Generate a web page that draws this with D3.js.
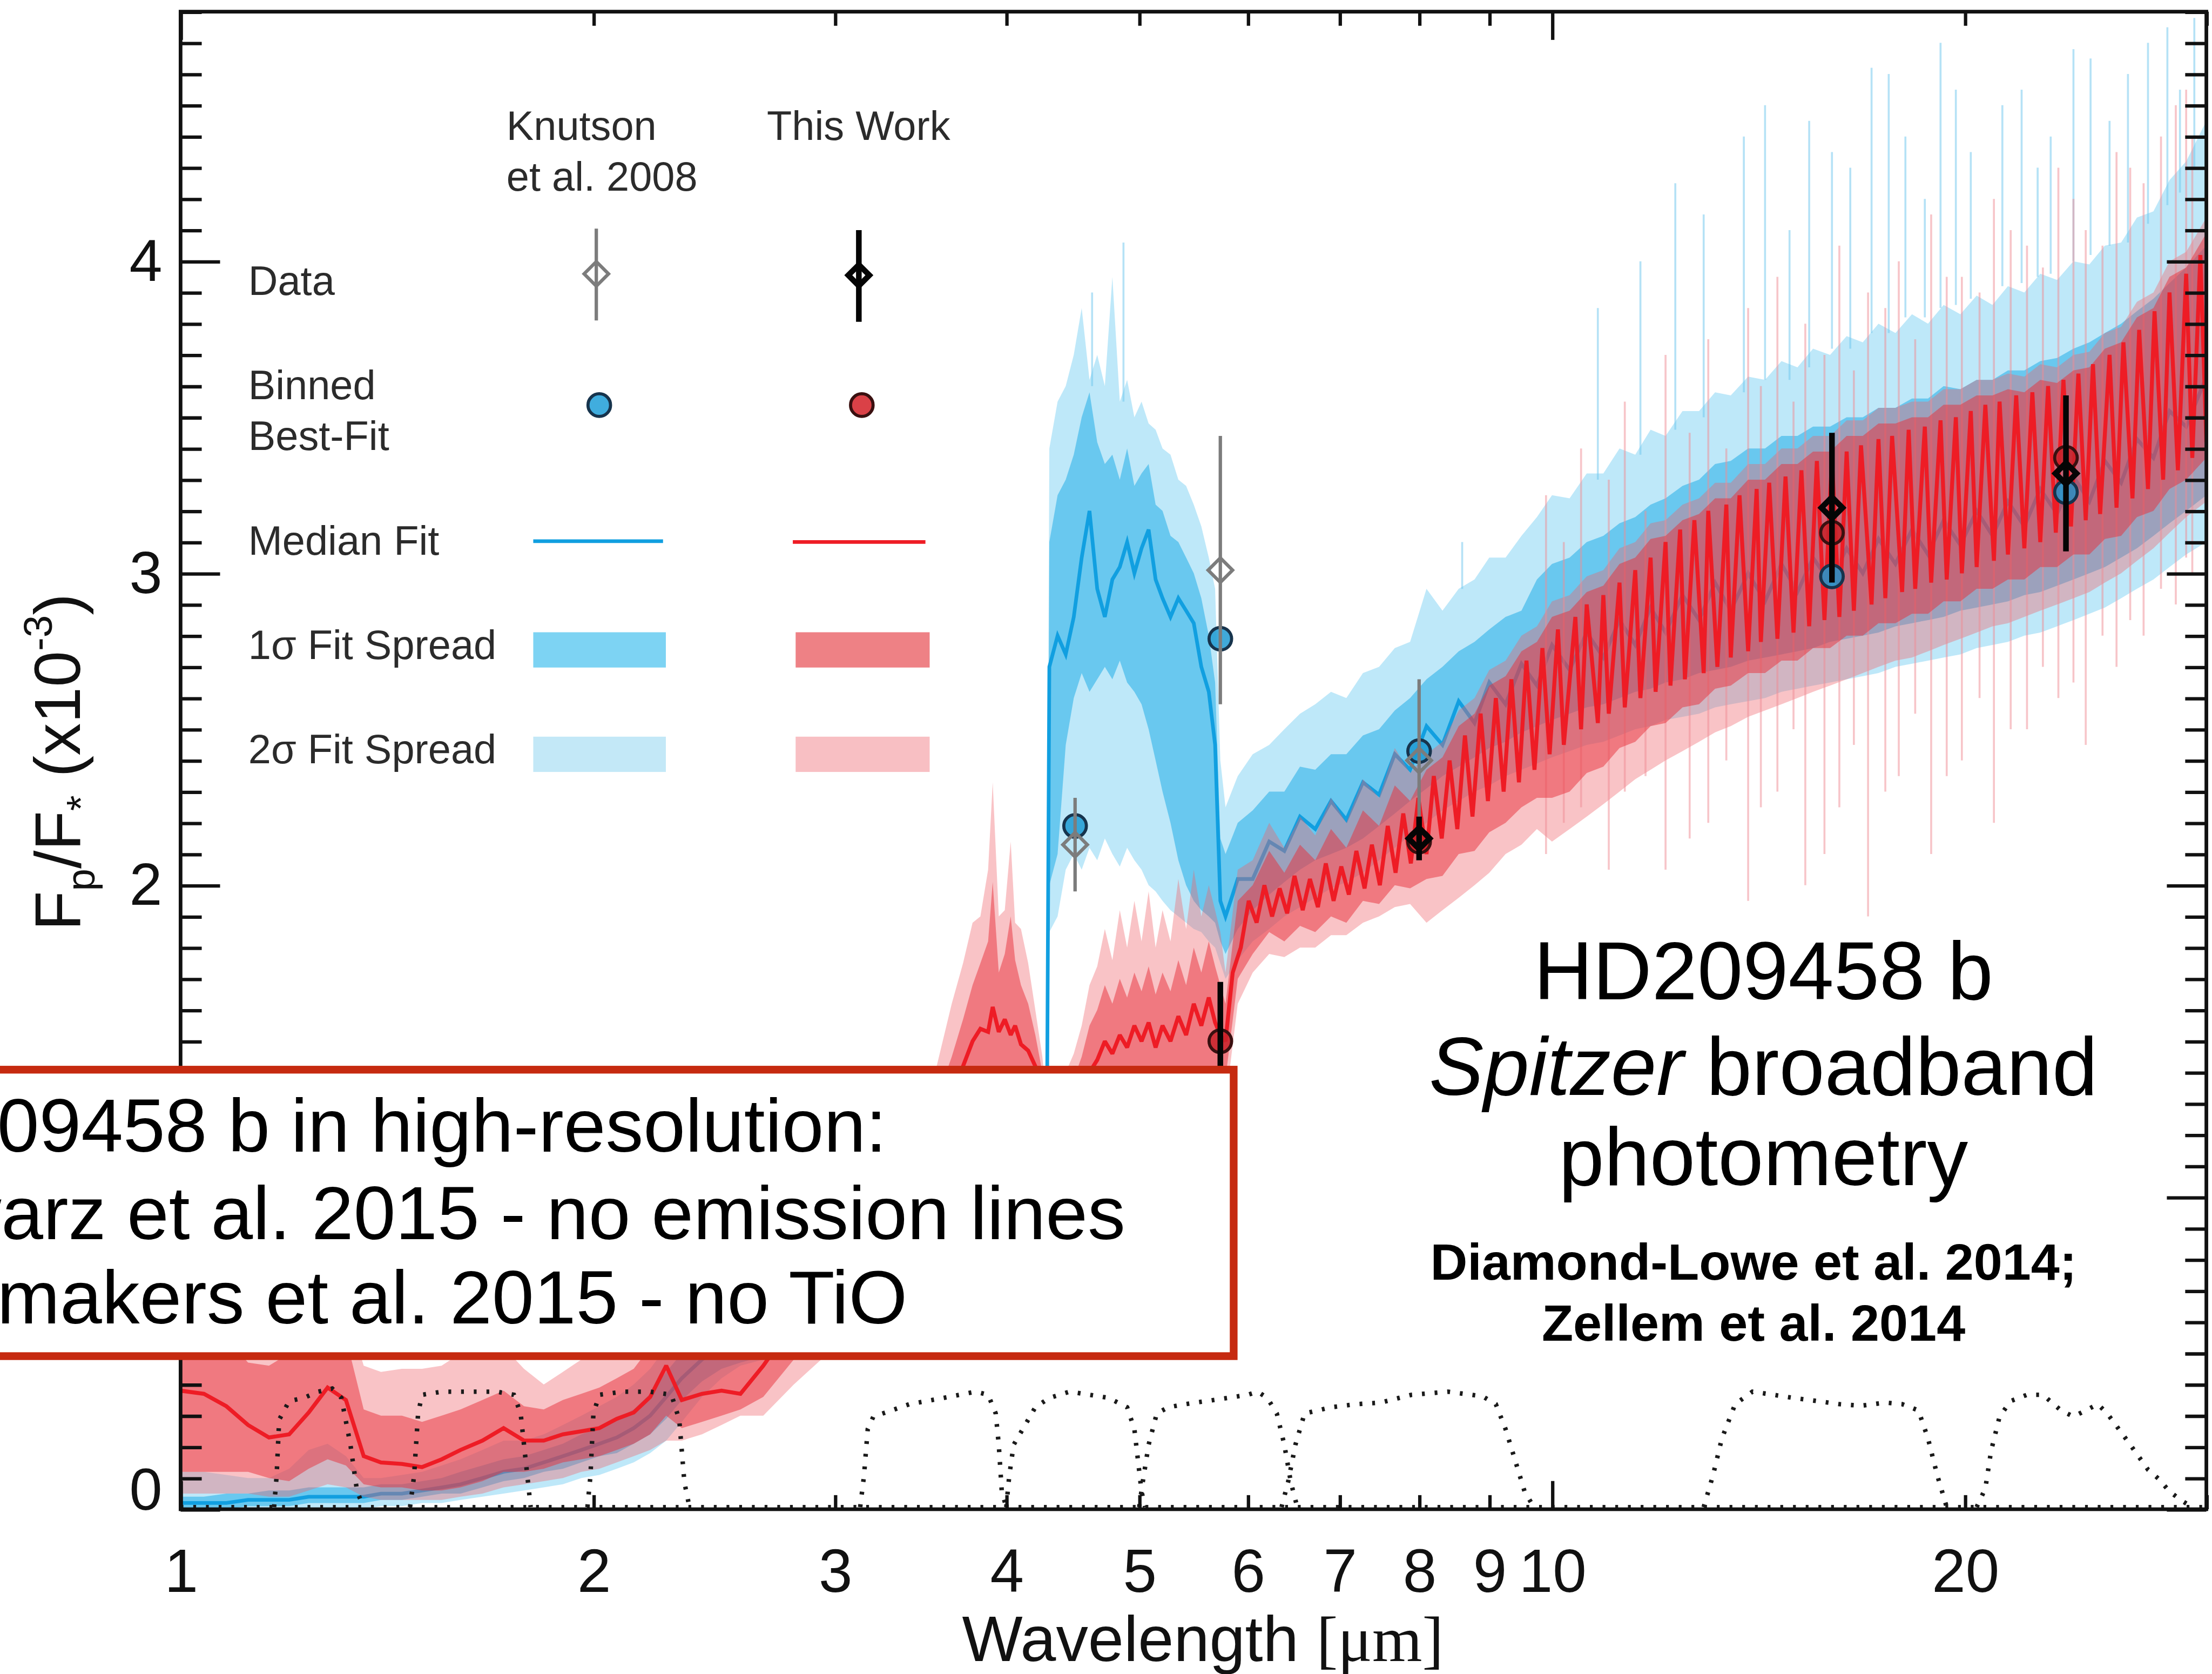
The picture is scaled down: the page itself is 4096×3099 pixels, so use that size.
<!DOCTYPE html>
<html>
<head>
<meta charset="utf-8">
<title>HD209458 b emission spectrum</title>
<style>
  html, body { margin: 0; padding: 0; background: #fff; overflow: hidden; }
  svg { display: block; }
</style>
</head>
<body>
<script src="https://cdn.jsdelivr.net/npm/d3@7"></script>
<script>
// model wavelength grid [micron]
var wave = [
  1.00, 1.04, 1.08, 1.12, 1.16, 1.20, 1.24, 1.28, 1.32, 1.36, 1.40, 1.45, 1.50, 1.55, 1.60, 1.66, 1.72, 1.78, 1.84, 1.90, 1.96, 2.02, 2.08, 2.14, 2.20, 2.26, 2.32, 2.40, 2.48, 2.56,
  2.66, 2.80, 3.00, 3.20, 3.40, 3.55, 3.65, 3.72, 3.78, 3.83, 3.88, 3.91, 3.95, 3.99, 4.03, 4.06, 4.10, 4.15, 4.20, 4.25, 4.28,
  4.30, 4.36, 4.42, 4.48, 4.54, 4.60, 4.66, 4.72, 4.78, 4.84, 4.90, 4.96, 5.02, 5.08, 5.14, 5.20, 5.27, 5.34, 5.41, 5.48, 5.55, 5.62, 5.68, 5.73,
  5.78, 5.90, 6.05, 6.22, 6.38, 6.55, 6.72, 6.90, 7.08, 7.28, 7.48, 7.68, 7.88, 8.10, 8.32, 8.55, 8.78, 9.00, 9.25, 9.50,
  9.75, 10.0, 10.3, 10.6, 10.9, 11.2, 11.5, 11.8, 12.1, 12.45, 12.8, 13.15, 13.5, 13.9, 14.3, 14.7, 15.1, 15.5, 15.95, 16.4,
  16.85, 17.3, 17.8, 18.3, 18.8, 19.3, 19.85, 20.4, 20.95, 21.5, 22.1, 22.7, 23.35, 24.0, 24.65, 25.3, 26.0, 26.7, 27.45, 28.2,
  29.0, 30.0
];

// Knutson et al. 2008 retrieval (blue)
var blueMed = [
  0.02, 0.02, 0.02, 0.03, 0.03, 0.03, 0.04, 0.04, 0.04, 0.04, 0.05, 0.05, 0.06, 0.07, 0.08, 0.10, 0.12, 0.13, 0.15, 0.17, 0.19, 0.21, 0.23, 0.26, 0.30, 0.36, 0.42, 0.48, 0.52, 0.54,
  0.56, 0.62, 0.70, 0.78, 0.85, 0.90, 0.92, 0.94, 0.95, 0.96, 0.97, 0.98, 0.98, 0.99, 1.00, 1.00, 1.00, 1.00, 1.00, 1.00, 1.00,
  2.70, 2.80, 2.74, 2.86, 3.05, 3.20, 2.95, 2.86, 2.98, 3.02, 3.10, 3.00, 3.08, 3.14, 2.98, 2.92, 2.86, 2.92, 2.88, 2.84, 2.70, 2.62, 2.45, 1.95,
  1.90, 2.02, 2.02, 2.14, 2.11, 2.22, 2.18, 2.27, 2.21, 2.33, 2.29, 2.42, 2.37, 2.51, 2.45, 2.59, 2.52, 2.65, 2.58, 2.71,
  2.64, 2.77, 2.69, 2.81, 2.73, 2.85, 2.77, 2.89, 2.81, 2.93, 2.85, 2.97, 2.88, 3.00, 2.91, 3.03, 2.94, 3.05, 2.97, 3.08,
  3.00, 3.11, 3.03, 3.14, 3.06, 3.17, 3.09, 3.20, 3.12, 3.23, 3.15, 3.27, 3.19, 3.31, 3.23, 3.36, 3.29, 3.43, 3.37, 3.52,
  3.47, 3.63
];
var blueHi1 = [
  0.04, 0.04, 0.05, 0.05, 0.06, 0.06, 0.07, 0.07, 0.07, 0.07, 0.08, 0.08, 0.09, 0.10, 0.12, 0.14, 0.16, 0.17, 0.19, 0.21, 0.24, 0.26, 0.29, 0.32, 0.37, 0.44, 0.50, 0.56, 0.60, 0.62,
  0.66, 0.72, 0.80, 0.88, 0.95, 1.00, 1.02, 1.04, 1.05, 1.06, 1.07, 1.08, 1.08, 1.09, 1.10, 1.10, 1.10, 1.10, 1.10, 1.10, 1.10,
  3.10, 3.25, 3.30, 3.38, 3.50, 3.58, 3.42, 3.35, 3.38, 3.30, 3.40, 3.28, 3.32, 3.35, 3.22, 3.20, 3.12, 3.10, 3.05, 3.00, 2.92, 2.80, 2.65, 2.15,
  2.10, 2.20, 2.24, 2.30, 2.30, 2.38, 2.37, 2.42, 2.42, 2.48, 2.50, 2.56, 2.60, 2.66, 2.70, 2.75, 2.78, 2.82, 2.86, 2.88,
  2.98, 3.03, 3.05, 3.10, 3.12, 3.16, 3.18, 3.22, 3.24, 3.28, 3.30, 3.35, 3.36, 3.40, 3.40, 3.44, 3.44, 3.47, 3.47, 3.50,
  3.50, 3.53, 3.53, 3.56, 3.56, 3.60, 3.59, 3.62, 3.62, 3.65, 3.65, 3.68, 3.69, 3.72, 3.74, 3.77, 3.80, 3.84, 3.88, 3.93,
  3.98, 4.05
];
var blueLo1 = [
  0.00, 0.00, 0.00, 0.01, 0.01, 0.01, 0.02, 0.02, 0.02, 0.02, 0.03, 0.03, 0.04, 0.05, 0.05, 0.07, 0.09, 0.10, 0.12, 0.13, 0.15, 0.17, 0.18, 0.21, 0.24, 0.29, 0.35, 0.41, 0.45, 0.47,
  0.49, 0.54, 0.62, 0.70, 0.77, 0.82, 0.84, 0.86, 0.87, 0.88, 0.89, 0.90, 0.90, 0.91, 0.92, 0.92, 0.92, 0.92, 0.92, 0.92, 0.92,
  2.00, 2.10, 2.45, 2.60, 2.68, 2.62, 2.66, 2.70, 2.66, 2.72, 2.65, 2.62, 2.58, 2.50, 2.40, 2.30, 2.20, 2.08, 2.00, 1.95, 1.92, 1.90, 1.88, 1.82,
  1.78, 1.86, 1.92, 1.97, 2.01, 2.05, 2.08, 2.10, 2.12, 2.15, 2.19, 2.23, 2.27, 2.31, 2.35, 2.38, 2.41, 2.44, 2.46, 2.49,
  2.51, 2.53, 2.55, 2.57, 2.58, 2.60, 2.62, 2.63, 2.65, 2.66, 2.68, 2.69, 2.70, 2.72, 2.73, 2.74, 2.75, 2.76, 2.78, 2.79,
  2.80, 2.81, 2.83, 2.84, 2.85, 2.86, 2.88, 2.89, 2.90, 2.91, 2.93, 2.94, 2.96, 2.98, 3.00, 3.02, 3.05, 3.08, 3.12, 3.16,
  3.20, 3.25
];
var blueHi2 = [
  0.12, 0.12, 0.11, 0.10, 0.10, 0.13, 0.19, 0.21, 0.17, 0.10, 0.10, 0.11, 0.12, 0.14, 0.16, 0.19, 0.22, 0.22, 0.24, 0.27, 0.30, 0.33, 0.36, 0.40, 0.45, 0.52, 0.58, 0.64, 0.68, 0.70,
  0.76, 0.82, 0.90, 0.98, 1.05, 1.10, 1.12, 1.14, 1.15, 1.16, 1.17, 1.18, 1.18, 1.19, 1.20, 1.20, 1.20, 1.20, 1.20, 1.20, 1.20,
  3.40, 3.55, 3.60, 3.70, 3.85, 3.62, 3.70, 3.60, 3.95, 3.55, 3.62, 3.50, 3.55, 3.48, 3.46, 3.40, 3.38, 3.30, 3.28, 3.22, 3.15, 3.05, 2.95, 2.40,
  2.25, 2.35, 2.42, 2.45, 2.50, 2.55, 2.58, 2.62, 2.60, 2.68, 2.70, 2.76, 2.78, 2.95, 2.88, 2.95, 2.98, 3.05, 3.05, 3.12,
  3.18, 3.25, 3.24, 3.32, 3.32, 3.40, 3.38, 3.46, 3.44, 3.52, 3.52, 3.58, 3.57, 3.63, 3.62, 3.68, 3.66, 3.72, 3.70, 3.76,
  3.74, 3.80, 3.77, 3.83, 3.80, 3.86, 3.83, 3.89, 3.86, 3.92, 3.90, 3.96, 3.94, 4.00, 3.99, 4.05, 4.06, 4.14, 4.16, 4.26,
  4.32, 4.45
];
var blueLo2 = [
  0.00, 0.00, 0.00, 0.00, 0.00, 0.00, 0.00, 0.00, 0.00, 0.00, 0.01, 0.01, 0.02, 0.02, 0.03, 0.04, 0.05, 0.06, 0.07, 0.08, 0.10, 0.11, 0.13, 0.15, 0.18, 0.22, 0.28, 0.36, 0.42, 0.46,
  0.48, 0.50, 0.56, 0.62, 0.68, 0.72, 0.74, 0.76, 0.77, 0.78, 0.79, 0.80, 0.80, 0.81, 0.82, 0.82, 0.82, 0.82, 0.82, 0.82, 0.82,
  1.85, 1.90, 2.05, 2.10, 2.05, 2.12, 2.08, 2.15, 2.10, 2.06, 2.12, 2.08, 2.05, 2.00, 1.98, 1.95, 1.92, 1.90, 1.88, 1.86, 1.85, 1.82, 1.80, 1.75,
  1.70, 1.76, 1.82, 1.86, 1.90, 1.93, 1.96, 1.99, 2.01, 2.04, 2.08, 2.12, 2.16, 2.20, 2.24, 2.27, 2.30, 2.32, 2.35, 2.37,
  2.39, 2.41, 2.43, 2.45, 2.46, 2.48, 2.50, 2.51, 2.53, 2.54, 2.55, 2.57, 2.58, 2.59, 2.60, 2.62, 2.63, 2.64, 2.65, 2.66,
  2.67, 2.68, 2.70, 2.71, 2.72, 2.73, 2.74, 2.76, 2.77, 2.78, 2.80, 2.81, 2.83, 2.85, 2.87, 2.89, 2.92, 2.95, 2.98, 3.02,
  3.06, 3.10
];

// This Work retrieval (red) spreads on the same grid
var redHi1 = [
  0.62, 0.60, 0.55, 0.47, 0.46, 0.50, 0.58, 0.62, 0.55, 0.32, 0.30, 0.30, 0.28, 0.30, 0.32, 0.35, 0.38, 0.33, 0.32, 0.35, 0.37, 0.39, 0.42, 0.45, 0.52, 0.62, 0.52, 0.52, 0.52, 0.52,
  0.62, 0.75, 0.92, 1.06, 1.20, 1.30, 1.45, 1.57, 1.68, 1.75, 1.82, 2.01, 1.72, 1.78, 1.90, 1.76, 1.68, 1.62, 1.52, 1.40, 1.25,
  1.25, 1.28, 1.32, 1.38, 1.45, 1.55, 1.60, 1.68, 1.62, 1.70, 1.64, 1.72, 1.66, 1.74, 1.65, 1.72, 1.66, 1.76, 1.68, 1.80, 1.72, 1.82, 1.74, 1.68,
  1.62, 1.95, 2.00, 2.11, 2.04, 2.13, 2.08, 2.18, 2.12, 2.24, 2.19, 2.32, 2.27, 2.37, 2.41, 2.51, 2.55, 2.64, 2.67, 2.75,
  2.78, 2.86, 2.88, 2.94, 2.96, 3.03, 3.05, 3.11, 3.12, 3.17, 3.19, 3.24, 3.24, 3.30, 3.30, 3.35, 3.35, 3.39, 3.39, 3.44,
  3.44, 3.48, 3.48, 3.50, 3.50, 3.54, 3.54, 3.57, 3.57, 3.59, 3.58, 3.62, 3.61, 3.65, 3.66, 3.72, 3.74, 3.82, 3.85, 3.95,
  3.98, 4.09
];
var redLo1 = [
  0.12, 0.12, 0.12, 0.12, 0.10, 0.09, 0.13, 0.16, 0.14, 0.08, 0.07, 0.07, 0.06, 0.06, 0.07, 0.09, 0.12, 0.12, 0.13, 0.15, 0.16, 0.17, 0.19, 0.21, 0.24, 0.30, 0.26, 0.28, 0.30, 0.32,
  0.36, 0.48, 0.62, 0.76, 0.88, 1.00, 1.10, 1.18, 1.26, 1.30, 1.32, 1.35, 1.30, 1.32, 1.30, 1.30, 1.26, 1.22, 1.15, 1.05, 0.95,
  0.90, 0.95, 1.00, 1.05, 1.10, 1.18, 1.22, 1.28, 1.25, 1.30, 1.27, 1.33, 1.29, 1.34, 1.28, 1.33, 1.30, 1.36, 1.32, 1.40, 1.35, 1.42, 1.36, 1.33,
  1.38, 1.70, 1.78, 1.85, 1.82, 1.87, 1.85, 1.90, 1.88, 1.95, 1.94, 2.00, 1.99, 2.02, 2.03, 2.10, 2.11, 2.17, 2.20, 2.25,
  2.28, 2.28, 2.30, 2.36, 2.38, 2.44, 2.46, 2.51, 2.52, 2.57, 2.58, 2.63, 2.64, 2.68, 2.68, 2.72, 2.72, 2.76, 2.76, 2.80,
  2.80, 2.84, 2.84, 2.87, 2.87, 2.91, 2.91, 2.95, 2.95, 2.98, 2.98, 3.02, 3.02, 3.06, 3.06, 3.11, 3.12, 3.18, 3.20, 3.27,
  3.30, 3.37
];
var redHi2 = [
  0.70, 0.70, 0.62, 0.52, 0.52, 0.60, 0.70, 0.72, 0.65, 0.46, 0.44, 0.45, 0.45, 0.46, 0.50, 0.55, 0.52, 0.45, 0.40, 0.44, 0.48, 0.50, 0.52, 0.56, 0.62, 0.72, 0.62, 0.62, 0.62, 0.62,
  0.75, 0.90, 1.05, 1.18, 1.30, 1.40, 1.62, 1.75, 1.88, 1.90, 2.05, 2.33, 1.90, 1.92, 2.14, 1.88, 1.86, 1.75, 1.60, 1.45, 1.32,
  1.35, 1.38, 1.40, 1.46, 1.55, 1.68, 1.74, 1.86, 1.76, 1.92, 1.80, 1.95, 1.82, 1.98, 1.80, 1.92, 1.82, 2.02, 1.86, 2.05, 1.90, 2.00, 1.92, 1.85,
  1.72, 2.05, 2.08, 2.20, 2.12, 2.22, 2.16, 2.28, 2.20, 2.34, 2.28, 2.44, 2.36, 2.42, 2.46, 2.56, 2.60, 2.69, 2.72, 2.80,
  2.83, 2.91, 2.93, 2.99, 3.01, 3.08, 3.10, 3.16, 3.17, 3.22, 3.24, 3.29, 3.29, 3.35, 3.35, 3.40, 3.40, 3.44, 3.44, 3.49,
  3.49, 3.53, 3.53, 3.55, 3.55, 3.59, 3.59, 3.62, 3.62, 3.64, 3.63, 3.67, 3.66, 3.70, 3.71, 3.77, 3.79, 3.87, 3.90, 4.00,
  4.03, 4.14
];
var redLo2 = [
  0.05, 0.05, 0.05, 0.05, 0.04, 0.04, 0.06, 0.08, 0.07, 0.04, 0.03, 0.03, 0.03, 0.03, 0.04, 0.05, 0.07, 0.08, 0.09, 0.10, 0.12, 0.13, 0.15, 0.17, 0.19, 0.22, 0.22, 0.24, 0.27, 0.30,
  0.30, 0.40, 0.52, 0.64, 0.76, 0.88, 0.98, 1.05, 1.10, 1.12, 1.14, 1.15, 1.12, 1.13, 1.12, 1.12, 1.08, 1.04, 0.98, 0.90, 0.80,
  0.75, 0.80, 0.85, 0.90, 0.96, 1.04, 1.08, 1.14, 1.11, 1.16, 1.13, 1.19, 1.15, 1.20, 1.14, 1.19, 1.16, 1.22, 1.18, 1.26, 1.20, 1.28, 1.22, 1.18,
  1.30, 1.62, 1.72, 1.78, 1.77, 1.80, 1.80, 1.84, 1.84, 1.88, 1.90, 1.93, 1.94, 1.88, 1.92, 1.96, 2.00, 2.04, 2.10, 2.13,
  2.18, 2.14, 2.18, 2.22, 2.26, 2.30, 2.34, 2.37, 2.40, 2.43, 2.46, 2.49, 2.51, 2.54, 2.56, 2.58, 2.60, 2.62, 2.64, 2.66,
  2.68, 2.70, 2.72, 2.73, 2.75, 2.77, 2.79, 2.81, 2.83, 2.84, 2.86, 2.88, 2.90, 2.92, 2.94, 2.97, 3.00, 3.04, 3.08, 3.13,
  3.18, 3.23
];

// red median: near-IR part on the grid above (1.00 - 5.73 micron) ...
var redMedNear = [
  0.38, 0.37, 0.33, 0.27, 0.23, 0.24, 0.31, 0.39, 0.35, 0.17, 0.15, 0.145, 0.135, 0.16, 0.19, 0.22, 0.26, 0.22, 0.22, 0.24, 0.25, 0.26, 0.29, 0.31, 0.36, 0.46, 0.35, 0.37, 0.38, 0.37,
  0.46, 0.60, 0.78, 0.92, 1.05, 1.18, 1.32, 1.42, 1.50, 1.54, 1.53, 1.61, 1.53, 1.57, 1.52, 1.55, 1.49, 1.47, 1.42, 1.30, 1.15,
  1.10, 1.15, 1.20, 1.26, 1.32, 1.40, 1.44, 1.50, 1.46, 1.52, 1.48, 1.55, 1.50, 1.56, 1.48, 1.55, 1.50, 1.58, 1.52, 1.62, 1.55, 1.64, 1.56, 1.52
];
// ... and the densely structured mid-IR part
var redMedFarWave = [
  5.78, 5.85, 5.93, 6.01, 6.09, 6.17, 6.25, 6.33, 6.41, 6.49, 6.58, 6.66, 6.75, 6.84, 6.93, 7.02, 7.11, 7.20, 7.30, 7.39,
  7.49, 7.59, 7.69, 7.79, 7.89, 7.99, 8.10, 8.20, 8.31, 8.42, 8.53, 8.64, 8.75, 8.87, 8.98, 9.10, 9.22, 9.34, 9.46, 9.58,
  9.71, 9.84, 9.96, 10.1, 10.2, 10.4, 10.5, 10.6, 10.8, 10.9, 11.0, 11.2, 11.3, 11.5, 11.6, 11.8, 11.9, 12.1, 12.2, 12.4,
  12.5, 12.7, 12.9, 13.0, 13.2, 13.4, 13.5, 13.7, 13.9, 14.1, 14.2, 14.4, 14.6, 14.8, 15.0, 15.2, 15.4, 15.6, 15.8, 16.0,
  16.2, 16.4, 16.6, 16.8, 17.1, 17.3, 17.5, 17.7, 18.0, 18.2, 18.4, 18.7, 18.9, 19.2, 19.4, 19.7, 19.9, 20.2, 20.4, 20.7,
  21.0, 21.2, 21.5, 21.8, 22.1, 22.4, 22.7, 23.0, 23.3, 23.6, 23.9, 24.2, 24.5, 24.8, 25.1, 25.5, 25.8, 26.1, 26.5, 26.8,
  27.2, 27.5, 27.9, 28.2, 28.6, 29.0, 29.3, 29.7, 30.0
];
var redMedFar = [
  1.50, 1.72, 1.80, 1.95, 1.88, 2.00, 1.90, 1.99, 1.91, 2.03, 1.92, 2.02, 1.93, 2.07, 1.95, 2.06, 1.97, 2.11, 1.99, 2.13,
  2.00, 2.19, 2.04, 2.23, 2.07, 2.28, 2.10, 2.35, 2.15, 2.40, 2.18, 2.48, 2.22, 2.55, 2.27, 2.60, 2.30, 2.66, 2.33, 2.72,
  2.37, 2.76, 2.42, 2.82, 2.45, 2.86, 2.50, 2.90, 2.52, 2.93, 2.55, 2.97, 2.57, 3.01, 2.60, 3.05, 2.62, 3.10, 2.64, 3.14,
  2.66, 3.17, 2.68, 3.20, 2.70, 3.22, 2.73, 3.25, 2.75, 3.27, 2.78, 3.29, 2.79, 3.31, 2.81, 3.33, 2.83, 3.36, 2.85, 3.37,
  2.86, 3.39, 2.88, 3.41, 2.90, 3.43, 2.92, 3.44, 2.94, 3.46, 2.95, 3.47, 2.97, 3.49, 2.98, 3.50, 3.00, 3.52, 3.02, 3.54,
  3.04, 3.55, 3.06, 3.57, 3.08, 3.58, 3.10, 3.60, 3.13, 3.62, 3.15, 3.64, 3.17, 3.67, 3.19, 3.70, 3.21, 3.74, 3.24, 3.78,
  3.27, 3.84, 3.30, 3.90, 3.33, 3.96, 3.37, 4.02, 3.42
];

// thin outlier spikes of the fit spreads
var blueSpikeWave = [4.62, 4.87, 8.6, 12.9, 13.8, 14.9, 15.4, 16.5, 17.6, 18.7, 19.7, 20.2, 21.3, 23.1, 24.7, 25.5, 27.2, 28.1, 28.7, 29.4,
  10.8, 11.6, 12.3, 14.3, 16.0, 17.1, 18.1, 19.2, 22.0, 22.6, 24.0, 26.3];
var blueSpikeLo = [3.60, 3.55, 2.95, 3.50, 3.58, 3.62, 3.66, 3.72, 3.77, 3.82, 3.86, 3.88, 3.92, 3.96, 4.02, 4.05, 4.12, 4.18, 4.22, 4.30,
  3.30, 3.38, 3.46, 3.62, 3.72, 3.77, 3.82, 3.85, 3.93, 3.95, 4.00, 4.06];
var blueSpikeHi = [3.90, 4.06, 3.10, 4.15, 4.40, 4.10, 4.45, 4.30, 4.60, 4.20, 4.55, 4.35, 4.50, 4.40, 4.65, 4.45, 4.70, 4.75, 4.55, 4.78,
  3.85, 4.00, 4.25, 4.50, 4.35, 4.62, 4.40, 4.70, 4.55, 4.30, 4.68, 4.60];
var redSpikeWave = [9.9, 10.5, 11.3, 12.1, 13.0, 13.9, 14.6, 15.3, 16.2, 17.0, 17.9, 18.9, 19.9, 21.0, 22.2, 23.4, 24.5, 25.8, 27.0, 28.5, 29.3,
  10.2, 11.0, 11.7, 12.6, 13.4, 14.2, 15.0, 15.8, 16.6, 17.5, 18.4, 19.4, 20.5, 21.6, 22.8, 24.0, 25.2, 26.4, 27.8, 29.0];
var redSpikeLo = [2.10, 2.25, 2.30, 2.05, 2.20, 1.95, 2.30, 2.00, 2.25, 1.90, 2.35, 2.10, 2.40, 2.20, 2.50, 2.60, 2.45, 2.70, 2.80, 2.90, 3.00,
  2.20, 2.05, 2.35, 2.15, 2.40, 2.25, 2.50, 2.10, 2.45, 2.30, 2.55, 2.35, 2.60, 2.50, 2.70, 2.65, 2.80, 2.85, 2.95, 3.05];
var redSpikeHi = [3.25, 3.40, 3.55, 3.70, 3.75, 3.85, 3.95, 3.80, 4.05, 3.90, 4.00, 4.15, 3.95, 4.20, 4.05, 4.30, 4.10, 4.35, 4.25, 4.50, 4.40,
  3.10, 3.30, 3.20, 3.45, 3.40, 3.60, 3.55, 3.70, 3.65, 3.85, 3.75, 3.95, 3.90, 4.10, 3.98, 4.20, 4.05, 4.30, 4.40, 4.55];

// filter response curves, in plotted units
var jWave = [1.17, 1.175, 1.18, 1.20, 1.23, 1.26, 1.29, 1.31, 1.33, 1.345, 1.36];
var jResp = [0, 0.10, 0.28, 0.34, 0.35, 0.37, 0.38, 0.35, 0.20, 0.05, 0];
var hWave = [1.47, 1.48, 1.49, 1.50, 1.55, 1.60, 1.65, 1.70, 1.75, 1.77, 1.79, 1.80];
var hResp = [0, 0.10, 0.30, 0.36, 0.37, 0.37, 0.37, 0.37, 0.36, 0.30, 0.10, 0];
var kWave = [1.98, 1.99, 2.00, 2.02, 2.10, 2.20, 2.28, 2.31, 2.33, 2.35];
var kResp = [0, 0.10, 0.30, 0.36, 0.37, 0.37, 0.36, 0.28, 0.08, 0];
var ch1Wave = [3.13, 3.15, 3.17, 3.20, 3.30, 3.40, 3.50, 3.60, 3.70, 3.80, 3.88, 3.93, 3.95, 3.97, 4.00];
var ch1Resp = [0, 0.10, 0.25, 0.29, 0.31, 0.33, 0.34, 0.35, 0.36, 0.37, 0.36, 0.30, 0.20, 0.05, 0];
var ch2Wave = [4.00, 4.02, 4.05, 4.10, 4.20, 4.30, 4.45, 4.60, 4.75, 4.90, 4.96, 4.99, 5.02, 5.05];
var ch2Resp = [0, 0.10, 0.20, 0.24, 0.32, 0.35, 0.37, 0.36, 0.35, 0.32, 0.25, 0.15, 0.05, 0];
var ch3Wave = [5.00, 5.03, 5.08, 5.15, 5.25, 5.40, 5.60, 5.80, 6.00, 6.10, 6.20, 6.30, 6.38, 6.45, 6.52];
var ch3Resp = [0, 0.08, 0.20, 0.30, 0.32, 0.33, 0.34, 0.35, 0.36, 0.37, 0.35, 0.30, 0.20, 0.08, 0];
var ch4Wave = [6.35, 6.42, 6.50, 6.60, 6.90, 7.20, 7.50, 7.90, 8.40, 8.90, 9.10, 9.25, 9.40, 9.55, 9.70];
var ch4Resp = [0, 0.08, 0.20, 0.30, 0.32, 0.33, 0.335, 0.36, 0.37, 0.355, 0.33, 0.25, 0.15, 0.05, 0];
var irsWave = [12.9, 13.1, 13.3, 13.6, 14.0, 14.5, 15.0, 15.6, 16.2, 16.8, 17.5, 18.0, 18.5, 18.8, 19.1, 19.4];
var irsResp = [0, 0.10, 0.22, 0.33, 0.37, 0.36, 0.35, 0.34, 0.33, 0.325, 0.335, 0.33, 0.31, 0.22, 0.10, 0];
var mipsWave = [20.4, 20.7, 20.9, 21.2, 21.6, 22.2, 22.8, 23.5, 24.0, 24.5, 25.0, 25.4, 25.8, 26.2, 26.7, 27.2, 27.7, 28.2, 28.8, 29.3];
var mipsResp = [0, 0.06, 0.18, 0.29, 0.34, 0.36, 0.36, 0.31, 0.29, 0.31, 0.33, 0.30, 0.26, 0.22, 0.17, 0.12, 0.09, 0.05, 0.02, 0];

// photometry and binned best fits
var knutsonWave = [3.55, 4.49, 5.73, 8.0];
var knutsonVal = [0.94, 2.13, 3.01, 2.40];
var knutsonErr = [0.09, 0.15, 0.43, 0.26];
var thisWave = [3.55, 4.49, 5.73, 8.0, 16.0, 23.7];
var thisVal = [1.19, 1.23, 1.34, 2.15, 3.21, 3.32];
var thisErr = [0.07, 0.06, 0.35, 0.07, 0.24, 0.25];
var binWave = [3.55, 4.49, 5.73, 8.0, 16.0, 23.7];
var blueBinned = [0.95, 2.19, 2.79, 2.43, 2.99, 3.26];
var redBinned = [1.10, 1.38, 1.50, 2.14, 3.13, 3.37];

// ticks (the "1" label is hidden behind the annotation box)
var xMajor = [1, 10];
var xMinor = [2, 3, 4, 5, 6, 7, 8, 9, 20, 30];
var xLabels = [1, 2, 3, 4, 5, 6, 7, 8, 9, 10, 20];
var yMajor = [0, 1, 2, 3, 4];
var yLabels = [0, 2, 3, 4];

// ---- drawing ----------------------------------------------------------
var W = 1568, H = 1186.2;
var SANS = '"Liberation Sans", Arial, Helvetica, sans-serif';
var SERIF = '"Liberation Serif", "Times New Roman", serif';

var svg = d3.select('body').append('svg')
  .attr('width', 4096).attr('height', 3099)
  .attr('viewBox', '0 0 ' + W + ' ' + H)
  .attr('font-family', SANS);

svg.append('rect').attr('width', W).attr('height', H).attr('fill', '#fff');

var plot = {left: 128, right: 1564, top: 8.2, bottom: 1069.5};
var x = d3.scaleLog().domain([1, 30]).range([plot.left, plot.right]);
var y = d3.scaleLinear().domain([0, 4.8]).range([plot.bottom, plot.top]);

svg.append('defs').append('clipPath').attr('id', 'clip')
  .append('rect')
  .attr('x', plot.left).attr('y', plot.top)
  .attr('width', plot.right - plot.left).attr('height', plot.bottom - plot.top);

var g = svg.append('g').attr('clip-path', 'url(#clip)');

function spread(lo1, hi1, lo2, hi2) {
  return wave.map(function(w, i) {
    return {w: w, lo1: lo1[i], hi1: hi1[i], lo2: lo2[i], hi2: hi2[i]};
  });
}
var blue = spread(blueLo1, blueHi1, blueLo2, blueHi2);
var red = spread(redLo1, redHi1, redLo2, redHi2);
var blueLineData = d3.zip(wave, blueMed);
var redLineData = d3.zip(wave.slice(0, redMedNear.length), redMedNear)
  .concat(d3.zip(redMedFarWave, redMedFar));

var band2 = d3.area().x(function(d) { return x(d.w); })
  .y0(function(d) { return y(d.lo2); }).y1(function(d) { return y(d.hi2); });
var band1 = d3.area().x(function(d) { return x(d.w); })
  .y0(function(d) { return y(d.lo1); }).y1(function(d) { return y(d.hi1); });
var medLine = d3.line().x(function(d) { return x(d[0]); }).y(function(d) { return y(d[1]); });

function spikes(ws, lo, hi, color) {
  var data = ws.map(function(w, i) { return {w: w, lo: lo[i], hi: hi[i]}; });
  g.append('g').selectAll('line').data(data).enter().append('line')
    .attr('x1', function(d) { return x(d.w); }).attr('x2', function(d) { return x(d.w); })
    .attr('y1', function(d) { return y(d.lo); }).attr('y2', function(d) { return y(d.hi); })
    .attr('stroke', color).attr('stroke-width', 1.4).attr('stroke-opacity', 0.5);
}

// blue model
g.append('path').datum(blue).attr('d', band2).attr('fill', '#5cc6f0').attr('fill-opacity', 0.4);
spikes(blueSpikeWave, blueSpikeLo, blueSpikeHi, '#6cc6ee');
g.append('path').datum(blue).attr('d', band1).attr('fill', '#22ade8').attr('fill-opacity', 0.55);
g.append('path').datum(blueLineData).attr('d', medLine)
  .attr('fill', 'none').attr('stroke', '#119fe0').attr('stroke-width', 2.6);

// red model
g.append('path').datum(red).attr('d', band2).attr('fill', '#f0606a').attr('fill-opacity', 0.38);
spikes(redSpikeWave, redSpikeLo, redSpikeHi, '#f08b93');
g.append('path').datum(red).attr('d', band1).attr('fill', '#e8303a').attr('fill-opacity', 0.5);
g.append('path').datum(redLineData).attr('d', medLine)
  .attr('fill', 'none').attr('stroke', '#ee1c25').attr('stroke-width', 2.8)
  .attr('stroke-linejoin', 'miter').attr('stroke-miterlimit', 2);

// filter curves (dotted)
var filters = [[jWave, jResp], [hWave, hResp], [kWave, kResp], [ch1Wave, ch1Resp], [ch2Wave, ch2Resp],
  [ch3Wave, ch3Resp], [ch4Wave, ch4Resp], [irsWave, irsResp], [mipsWave, mipsResp]];
var filterLine = d3.line().x(function(d) { return x(d[0]); }).y(function(d) { return y(d[1]) - 1.5; });
g.append('path').datum([[1, 0], [30, 0]]).attr('d', filterLine)
  .attr('fill', 'none').attr('stroke', '#1a1a1a').attr('stroke-width', 3.2).attr('stroke-dasharray', '2 7');
g.selectAll('.filter').data(filters).enter().append('path')
  .attr('class', 'filter')
  .attr('d', function(f) { return filterLine(d3.zip(f[0], f[1])); })
  .attr('fill', 'none').attr('stroke', '#1a1a1a').attr('stroke-width', 3.2)
  .attr('stroke-dasharray', '2 7');

// markers
var diamondK = d3.symbol().type(d3.symbolSquare).size(150);
var diamondT = d3.symbol().type(d3.symbolSquare).size(112);

function errorBar(sel, px, y1, y2, color, width) {
  sel.append('line').attr('x1', px).attr('x2', px).attr('y1', y1).attr('y2', y2)
    .attr('stroke', color).attr('stroke-width', width);
}
function knutsonMark(sel, px, py) {
  sel.append('path').attr('d', diamondK)
    .attr('transform', 'translate(' + px + ',' + py + ') rotate(45)')
    .attr('fill', 'none').attr('stroke', '#7c7c7c').attr('stroke-width', 2.4);
}
function thisMark(sel, px, py) {
  sel.append('path').attr('d', diamondT)
    .attr('transform', 'translate(' + px + ',' + py + ') rotate(45)')
    .attr('fill', 'none').attr('stroke', '#050505').attr('stroke-width', 4);
}
function binMark(sel, px, py, fill, edge) {
  sel.append('circle').attr('cx', px).attr('cy', py).attr('r', 8)
    .attr('fill', fill).attr('fill-opacity', 0.85)
    .attr('stroke', edge).attr('stroke-width', 2.2);
}

var pts = g.append('g');
binWave.forEach(function(w, i) {
  binMark(pts, x(w), y(blueBinned[i]), '#1e9ad2', '#17344d');
  binMark(pts, x(w), y(redBinned[i]), '#c8222a', '#3a1010');
});
knutsonWave.forEach(function(w, i) {
  errorBar(pts, x(w), y(knutsonVal[i] - knutsonErr[i]), y(knutsonVal[i] + knutsonErr[i]), '#7c7c7c', 2.4);
  knutsonMark(pts, x(w), y(knutsonVal[i]));
});
thisWave.forEach(function(w, i) {
  errorBar(pts, x(w), y(thisVal[i] - thisErr[i]), y(thisVal[i] + thisErr[i]), '#050505', 4);
  thisMark(pts, x(w), y(thisVal[i]));
});

// ---- axes -------------------------------------------------------------
function styleTicks(sel) {
  sel.select('.domain').remove();
  sel.selectAll('.tick line').attr('stroke', '#111').attr('stroke-width', 2.4);
}
var yMinor = y.ticks(48).filter(function(v) { return Math.abs(v - Math.round(v)) > 1e-6; });

svg.append('g').attr('transform', 'translate(' + plot.left + ',0)')
  .call(d3.axisRight(y).tickValues(yMinor).tickSize(15).tickFormat('')).call(styleTicks);
svg.append('g').attr('transform', 'translate(' + plot.left + ',0)')
  .call(d3.axisRight(y).tickValues(yMajor).tickSize(28).tickFormat('')).call(styleTicks);
svg.append('g').attr('transform', 'translate(' + plot.right + ',0)')
  .call(d3.axisLeft(y).tickValues(yMinor).tickSize(15).tickFormat('')).call(styleTicks);
svg.append('g').attr('transform', 'translate(' + plot.right + ',0)')
  .call(d3.axisLeft(y).tickValues(yMajor).tickSize(28).tickFormat('')).call(styleTicks);

svg.append('g').attr('transform', 'translate(0,' + plot.bottom + ')')
  .call(d3.axisTop(x).tickValues(xMinor).tickSize(10).tickFormat('')).call(styleTicks);
svg.append('g').attr('transform', 'translate(0,' + plot.bottom + ')')
  .call(d3.axisTop(x).tickValues(xMajor).tickSize(20).tickFormat('')).call(styleTicks);
svg.append('g').attr('transform', 'translate(0,' + plot.top + ')')
  .call(d3.axisBottom(x).tickValues(xMinor).tickSize(10).tickFormat('')).call(styleTicks);
svg.append('g').attr('transform', 'translate(0,' + plot.top + ')')
  .call(d3.axisBottom(x).tickValues(xMajor).tickSize(20).tickFormat('')).call(styleTicks);

svg.append('rect')
  .attr('x', plot.left).attr('y', plot.top)
  .attr('width', plot.right - plot.left).attr('height', plot.bottom - plot.top)
  .attr('fill', 'none').attr('stroke', '#111').attr('stroke-width', 2.6);

// tick labels
var xLab = svg.append('g').attr('transform', 'translate(0,' + plot.bottom + ')')
  .call(d3.axisBottom(x).tickValues(xLabels).tickSize(0).tickPadding(28).tickFormat(d3.format('d')));
xLab.select('.domain').remove();
xLab.selectAll('text').attr('font-size', 43).attr('font-family', SANS).attr('fill', '#111');

var yLab = svg.append('g').attr('transform', 'translate(' + plot.left + ',0)')
  .call(d3.axisLeft(y).tickValues(yLabels).tickSize(0).tickPadding(13).tickFormat(d3.format('d')));
yLab.select('.domain').remove();
yLab.selectAll('text').attr('font-size', 42).attr('font-family', SANS).attr('fill', '#111');
yLab.selectAll('.tick').filter(function(d) { return d === 0; }).select('text').attr('dy', '0em');

// axis titles
var xt = svg.append('text').attr('x', 682).attr('y', 1177)
  .attr('font-size', 45.5).attr('fill', '#111');
xt.append('tspan').text('Wavelength ');
xt.append('tspan').attr('font-family', SERIF).text('[\u03bcm]');

var yt = svg.append('text').attr('transform', 'translate(57,540) rotate(-90)')
  .attr('text-anchor', 'middle').attr('font-size', 46).attr('fill', '#111');
yt.append('tspan').text('F');
yt.append('tspan').attr('font-size', '0.62em').attr('dy', '0.35em').text('p');
yt.append('tspan').attr('dy', '-0.22em').text('/F');
yt.append('tspan').attr('font-size', '0.62em').attr('dy', '0.35em').text('*');
yt.append('tspan').attr('dy', '-0.22em').text(' (x10');
yt.append('tspan').attr('font-size', '0.62em').attr('dy', '-0.7em').text('-3');
yt.append('tspan').attr('dy', '0.43em').text(')');

// ---- annotation box ---------------------------------------------------
svg.append('rect').attr('x', -30).attr('y', 758).attr('width', 904.5).attr('height', 203)
  .attr('fill', '#fff').attr('stroke', '#c62a10').attr('stroke-width', 5.5);
var boxLines = [
  {t: 'HD209458 b in high-resolution:', x: -109, y: 816},
  {t: 'Schwarz et al. 2015 - no emission lines', x: -130, y: 878},
  {t: 'Hoeijmakers et al. 2015 - no TiO', x: -124, y: 938}
];
svg.selectAll('.boxline').data(boxLines).enter().append('text')
  .attr('class', 'boxline')
  .attr('x', function(d) { return d.x; }).attr('y', function(d) { return d.y; })
  .attr('font-size', 53.5).attr('fill', '#000').text(function(d) { return d.t; });

// ---- legend -----------------------------------------------------------
var leg = svg.append('g').attr('font-size', 29).attr('fill', '#2b2b2b');
leg.append('text').attr('x', 359).attr('y', 99).text('Knutson');
leg.append('text').attr('x', 359).attr('y', 135).text('et al. 2008');
leg.append('text').attr('x', 543.6).attr('y', 99).text('This Work');
leg.append('text').attr('x', 176).attr('y', 209).text('Data');
leg.append('text').attr('x', 176).attr('y', 283).text('Binned');
leg.append('text').attr('x', 176).attr('y', 319).text('Best-Fit');
leg.append('text').attr('x', 176).attr('y', 393).text('Median Fit');
leg.append('text').attr('x', 176).attr('y', 467).text('1\u03c3 Fit Spread');
leg.append('text').attr('x', 176).attr('y', 541).text('2\u03c3 Fit Spread');

errorBar(leg, 422.7, 162, 227, '#7c7c7c', 2.4);
knutsonMark(leg, 422.7, 194);
errorBar(leg, 608.8, 163, 228, '#050505', 4);
thisMark(leg, 608.8, 195);
binMark(leg, 424.8, 287, '#1e9fd8', '#17344d');
binMark(leg, 610.9, 287, '#d42027', '#3a1010');
leg.append('line').attr('x1', 378).attr('x2', 470).attr('y1', 383.5).attr('y2', 383.5)
  .attr('stroke', '#119fe0').attr('stroke-width', 2.6);
leg.append('line').attr('x1', 562).attr('x2', 656).attr('y1', 384).attr('y2', 384)
  .attr('stroke', '#ee1c25').attr('stroke-width', 2.6);
leg.append('rect').attr('x', 378).attr('y', 448).attr('width', 94).attr('height', 25).attr('fill', '#7dd3f3');
leg.append('rect').attr('x', 564).attr('y', 448).attr('width', 95).attr('height', 25).attr('fill', '#ee8185');
leg.append('rect').attr('x', 378).attr('y', 522).attr('width', 94).attr('height', 25).attr('fill', '#c3e8f7');
leg.append('rect').attr('x', 564).attr('y', 522).attr('width', 95).attr('height', 25).attr('fill', '#f8bfc3');

// ---- title block ------------------------------------------------------
var tb = svg.append('g').attr('text-anchor', 'middle').attr('fill', '#000');
tb.append('text').attr('x', 1250).attr('y', 708).attr('font-size', 58).text('HD209458 b');
var sp = tb.append('text').attr('x', 1250).attr('y', 776).attr('font-size', 58);
sp.append('tspan').attr('font-style', 'italic').text('Spitzer');
sp.append('tspan').text(' broadband');
tb.append('text').attr('x', 1250).attr('y', 840).attr('font-size', 58).text('photometry');
tb.append('text').attr('x', 1243).attr('y', 907).attr('font-size', 36.5).attr('font-weight', 'bold')
  .text('Diamond-Lowe et al. 2014;');
tb.append('text').attr('x', 1243).attr('y', 950).attr('font-size', 36.5).attr('font-weight', 'bold')
  .text('Zellem et al. 2014');
</script>
</body>
</html>
